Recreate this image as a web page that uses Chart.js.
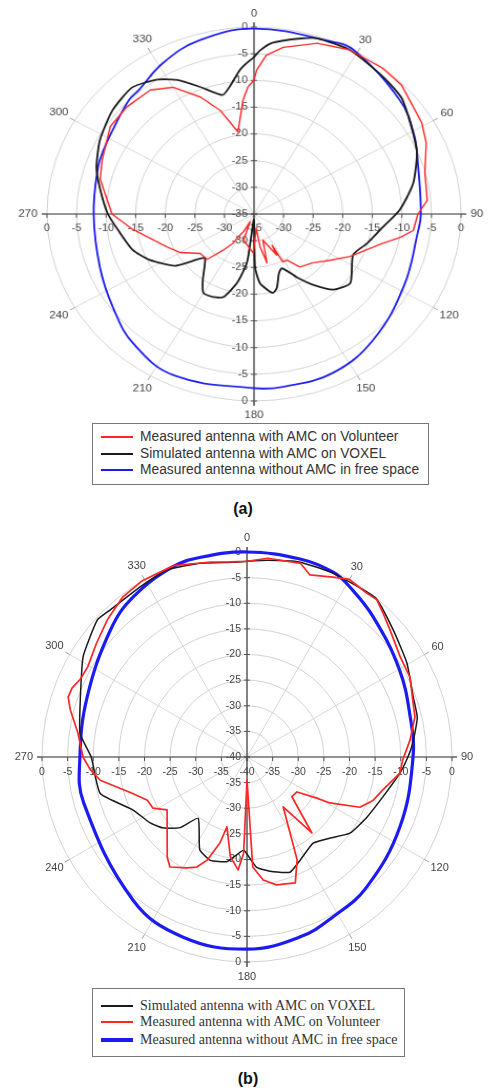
<!DOCTYPE html>
<html>
<head>
<meta charset="utf-8">
<script src="https://cdn.jsdelivr.net/npm/chart.js@4.4.1/dist/chart.umd.min.js"></script>
<style>
  body { margin: 0; width: 489px; height: 1092px; background: #fff; position: relative; overflow: hidden; font-family: "Liberation Sans", Arial, sans-serif; }
  .plot { position: absolute; }
  #plotA { left: 24px; top: -6px; transform: scale(1.051, 0.949); transform-origin: 230px 220px; }
  #plotB { left: 7px; top: 527px; }
  .legend { position: absolute; border: 1px solid #777; box-sizing: border-box; background: #fff; }
  .legend .row { position: absolute; left: 0; right: 0; height: 16px; }
  .legend .sw { position: absolute; left: 8px; width: 32px; top: 8px; }
  .legend .txt { position: absolute; left: 47px; top: 0; line-height: 16px; white-space: nowrap; color: #333; }
  #legA { left: 92px; top: 423px; width: 337px; height: 62px; font-size: 13.8px; }
  #legB { left: 92px; top: 988px; width: 313px; height: 69px; font-size: 14px; font-family: "Liberation Serif", "Times New Roman", serif; }
  .cap { position: absolute; font-weight: bold; font-size: 16px; color: #111; transform: translateX(-50%); }
</style>
</head>
<body>
<div class="plot" id="plotA"><canvas id="chartA" width="460" height="440"></canvas></div>
<div class="legend" id="legA"></div>
<div class="cap" style="left:243px; top:500px;">(a)</div>

<div class="plot" id="plotB"><canvas id="chartB" width="480" height="460"></canvas></div>
<div class="legend" id="legB"></div>
<div class="cap" style="left:248px; top:1070px;">(b)</div>

<script>
//Data---------------------------------------------------------------------------------------------
// angles in degrees (0 = top, clockwise), levels in dB

// (a) radial scale -35 ... 0 dB
const angMeasA = [0, 1, 4, 9, 18.5, 27.5, 38.5, 46, 59, 65.5, 75, 85, 90, 96.5, 100, 104, 116, 124, 132.5, 142,
  147, 151.5, 152.5, 153.5, 163, 166.5, 170.5, 172, 181, 200, 204, 208, 212, 213, 217.5, 223, 231, 240, 247, 262,
  270, 284, 291.5, 304, 313, 323, 330, 337.5, 343.5, 350, 355, 357.5];
const dbMeasA = [-9.9, -8.0, -5.2, -3.4, -1.3, -0.3, -0.1, -0.3, -1.9, -3.0, -5.1, -5.6, -7.3, -7.9, -9.9, -12.5, -16.9, -19.5, -21.5, -22.4,
  -24.7, -24.8, -28.4, -26.4, -29.9, -25.6, -28.8, -32.3, -27.7, -29.8, -33.4, -31.3, -29.9, -28.5, -26.5, -23.4, -23.3, -20.6, -19.1, -14.3,
  -11.0, -8.2, -7.4, -5.7, -5.6, -5.9, -7.6, -11.3, -14.7, -19.4, -13.6, -11.2];

const angSimA = [0, 2, 5.5, 13.5, 18, 28, 40.5, 49.5, 66.5, 78, 88, 96.5, 106, 114.5, 128.5, 136.5, 143, 148.5, 155, 159,
  164.5, 168, 175.5, 179, 181, 186.5, 187.5, 192.5, 198.5, 204, 210, 215, 225, 228, 234, 244, 252, 261, 270, 280,
  288, 298, 309, 319, 327, 332.5, 339, 346.5, 350, 355, 357.5];
const dbSimA = [-5.6, -4.3, -2.8, -1.2, -0.4, -0.3, -1.3, -2.0, -5.0, -7.5, -10.3, -13.1, -15.1, -16.6, -14.2, -15.5, -18.4, -21.1, -23.8, -23.2,
  -20.6, -19.9, -22.0, -25.1, -34.0, -30.7, -25.8, -21.8, -18.6, -18.0, -17.9, -19.9, -23.3, -22.4, -18.5, -15.4, -13.4, -12.1, -10.3, -8.6,
  -7.0, -5.5, -4.2, -3.6, -5.0, -6.7, -9.5, -12.1, -10.9, -7.9, -6.7];

const angFreeA = [0, 22.5, 29, 49, 61, 72.5, 90, 97, 118, 139.5, 156, 171, 180, 204, 220, 233.5, 249, 270, 288.5, 295,
  302, 315, 320, 331.5, 344];
const dbFreeA = [-0.3, -0.1, 0, -2.4, -4.1, -5.9, -6.8, -7.1, -6.3, -4.0, -2.4, -2.3, -2.4, -1.9, -3.3, -5.4, -7.1, -7.9, -7.2, -6.9,
  -6.5, -5.0, -4.7, -2.8, -1.2];

// (b) radial scale -40 ... 0 dB
const angSimB = [0, 5.8, 15.2, 25, 39, 49, 59.5, 70, 77, 85, 90, 96, 106.5, 116.5, 126.5, 134.5, 142.5, 152.5, 159.5, 167,
  175, 182, 186, 191, 199.5, 207, 218.5, 223.5, 230, 236, 245, 256, 270, 278, 289, 301.5, 312.5, 317, 328, 337,
  346.5, 356];
const dbSimB = [-1.8, -1.4, -0.6, -0.4, -0.1, -2.2, -3.8, -5.5, -5.9, -7.5, -8.6, -10, -12.4, -13.8, -15, -17.4, -18.8, -17.4, -16, -17,
  -18.4, -21.8, -20.8, -19.2, -18.6, -19.7, -24.7, -21, -18.5, -17.1, -15.5, -10.5, -9.6, -7.1, -5.6, -2.5, -0.4, -0.8, -0.8, -0.3,
  -1.1, -1.9];

const angMeasB = [0, 6, 15.5, 19, 25.5, 30, 36, 39.5, 43.5, 48.5, 57, 64, 71, 76.5, 84, 91, 96, 103.5, 109, 114,
  119, 120.5, 125, 131.5, 139.5, 144, 154, 159, 167, 172.5, 177, 180, 182, 184.5, 189.5, 196, 197.5, 201, 204.5, 208.5,
  215, 218.5, 236.5, 241.5, 246.5, 252.5, 261, 265.5, 270, 278, 285, 288.5, 291.5, 295, 299.5, 307, 314.5, 322, 329, 339,
  349.5, 355];
const dbMeasB = [-1.8, -1.0, -0.8, -2.4, -1.1, 0, -0.4, -0.2, -1.4, -2.7, -4.3, -4.6, -5.8, -6.3, -8, -9.6, -10, -12.7, -14, -15.9,
  -21.5, -24.2, -28.1, -28.3, -20.5, -28, -17.7, -13.7, -14.4, -15.8, -18.5, -35.5, -21.2, -17.9, -20.3, -25.8, -22.4, -18.5, -16.4, -15.4,
  -13.8, -15, -21.3, -19.1, -18.8, -16.5, -11, -9.3, -8, -6.7, -4.3, -3.2, -3.3, -4.1, -4.3, -3.2, -1.8, -0.5, 0, 0,
  -1.3, -1.8];

const angFreeB = [0, 15, 25, 31, 42, 60, 76, 90, 114.5, 137.5, 151.5, 163.5, 180, 199.5, 218.5, 254.5, 270, 290.5, 313, 324.5,
  338.5, 347];
const dbFreeB = [0, 0, -0.2, -1.2, -3.2, -5.7, -7.2, -7.6, -7.2, -5.5, -4.6, -3.4, -2.5, -2.7, -4.3, -6.9, -7.4, -6.7, -3.6, -1.7,
  -0.2, 0];

const angleTicks = [0, 30, 60, 90, 120, 150, 180, 210, 240, 270, 300, 330];
const namesA = ['Measured antenna with AMC on Volunteer', 'Simulated antenna with AMC on VOXEL', 'Measured antenna without AMC in free space'];
const namesB = ['Simulated antenna with AMC on VOXEL', 'Measured antenna with AMC on Volunteer', 'Measured antenna without AMC in free space'];
//-------------------------------------------------------------------------------------------------

const RED = '#ff2626', BLACK = '#1a1a1a', BLUE = '#1c1cf2';
const STEP = 0.5; // one radar slot per half degree
const slots = [];
for (let a = 0; a < 360; a += STEP) slots.push(a);

// puts the read points into the radar slots, everything else stays empty (spanGaps joins them)
function toSlots(angles, values) {
  const arr = new Array(slots.length).fill(null);
  angles.forEach((a, i) => { arr[Math.round(a / STEP) % slots.length] = values[i]; });
  return arr;
}

// axes cross, angle labels and dB labels on both axes, like in the paper figure
const polarDeco = {
  id: 'polarDeco',
  beforeDatasetsDraw(chart) {
    const s = chart.scales.r;
    const ctx = chart.ctx;
    const R = s.drawingArea;
    const per = 1 / STEP;
    const cx = s.xCenter, cy = s.yCenter;
    ctx.save();

    ctx.strokeStyle = '#8a8a8a';
    ctx.lineWidth = 0.8;
    angleTicks.forEach(deg => {
      const a = s.getPointPosition(deg * per, R);
      const b = s.getPointPosition(deg * per, R + 5);
      ctx.beginPath(); ctx.moveTo(a.x, a.y); ctx.lineTo(b.x, b.y); ctx.stroke();
    });

    ctx.strokeStyle = '#3c3c3c';
    ctx.lineWidth = 1.2;
    [0, 90, 180, 270].forEach(deg => {
      const p = s.getPointPosition(deg * per, R + 5);
      ctx.beginPath(); ctx.moveTo(cx, cy); ctx.lineTo(p.x, p.y); ctx.stroke();
    });

    ctx.fillStyle = '#444';
    ctx.font = '11px "Liberation Sans", Arial, sans-serif';
    ctx.textAlign = 'center';
    ctx.textBaseline = 'middle';
    angleTicks.forEach(deg => {
      const txt = String(deg);
      const w = ctx.measureText(txt).width;
      const rad = deg * Math.PI / 180;
      const off = 9 + Math.hypot(Math.sin(rad) * w / 2, Math.cos(rad) * 5.5);
      const p = s.getPointPosition(deg * per, R + off);
      ctx.fillText(txt, p.x, p.y);
    });

    ctx.font = '10.5px "Liberation Sans", Arial, sans-serif';
    ctx.lineWidth = 1;
    ctx.strokeStyle = '#555';
    s.ticks.forEach((t, i) => {
      const d = s.getDistanceFromCenterForValue(t.value);
      const txt = String(t.value);
      ctx.textAlign = 'right';
      ctx.fillText(txt, cx - 6, cy - d);
      if (i > 0) ctx.fillText(txt, cx - 6, cy + d);
      ctx.textAlign = 'center';
      ctx.fillText(txt, cx - d, cy + 15);
      if (i > 0) ctx.fillText(txt, cx + d, cy + 15);
      ctx.beginPath();
      ctx.moveTo(cx - 3, cy - d); ctx.lineTo(cx + 3, cy - d);
      ctx.moveTo(cx - 3, cy + d); ctx.lineTo(cx + 3, cy + d);
      ctx.moveTo(cx - d, cy); ctx.lineTo(cx - d, cy + 4);
      ctx.moveTo(cx + d, cy); ctx.lineTo(cx + d, cy + 4);
      ctx.stroke();
    });
    ctx.restore();
  }
};

function makePolar(id, rMin, pad, sets) {
  return new Chart(document.getElementById(id), {
    type: 'radar',
    data: {
      labels: slots,
      datasets: sets.map(d => ({
        label: d.name,
        data: toSlots(d.ang, d.db),
        borderColor: d.color,
        borderWidth: d.width,
        tension: d.tension,
        borderJoinStyle: 'round',
        pointRadius: 0,
        pointHitRadius: 0,
        fill: false,
        spanGaps: true
      }))
    },
    options: {
      responsive: false,
      animation: false,
      layout: { padding: pad },
      plugins: { legend: { display: false }, tooltip: { enabled: false } },
      scales: {
        r: {
          min: rMin,
          max: 0,
          ticks: { display: false, stepSize: 5 },
          grid: { circular: true, color: '#c6c6c6', lineWidth: 0.8 },
          angleLines: { color: '#cdcdcd', lineWidth: c => (c.index % (30 / STEP) === 0 ? 0.8 : 0) },
          pointLabels: { display: false }
        }
      }
    },
    plugins: [polarDeco]
  });
}

//Charts-------------------------------------------------------------------------------------------
makePolar('chartA', -35, 23, [
  { name: namesA[0], ang: angMeasA, db: dbMeasA, color: RED, width: 1.4, tension: 0 },
  { name: namesA[1], ang: angSimA, db: dbSimA, color: BLACK, width: 1.8, tension: 0.2 },
  { name: namesA[2], ang: angFreeA, db: dbFreeA, color: BLUE, width: 1.8, tension: 0.4 }
]);

makePolar('chartB', -40, 25, [
  { name: namesB[1], ang: angMeasB, db: dbMeasB, color: RED, width: 1.7, tension: 0 },
  { name: namesB[0], ang: angSimB, db: dbSimB, color: BLACK, width: 1.5, tension: 0.15 },
  { name: namesB[2], ang: angFreeB, db: dbFreeB, color: BLUE, width: 3.2, tension: 0.4 }
]);

//Legends------------------------------------------------------------------------------------------
function buildLegend(id, names, colors, widths, rowTops) {
  const box = document.getElementById(id);
  names.forEach((n, i) => {
    const row = document.createElement('div');
    row.className = 'row';
    row.style.top = rowTops[i] + 'px';
    const sw = document.createElement('div');
    sw.className = 'sw';
    sw.style.height = widths[i] + 'px';
    sw.style.marginTop = (-widths[i] / 2) + 'px';
    sw.style.background = colors[i];
    const txt = document.createElement('div');
    txt.className = 'txt';
    txt.textContent = n;
    row.appendChild(sw);
    row.appendChild(txt);
    box.appendChild(row);
  });
}
buildLegend('legA', namesA, [RED, BLACK, BLUE], [2, 2, 2], [5, 22, 38]);
buildLegend('legB', namesB, [BLACK, RED, BLUE], [2, 2, 4], [9, 25, 43]);
</script>
</body>
</html>
